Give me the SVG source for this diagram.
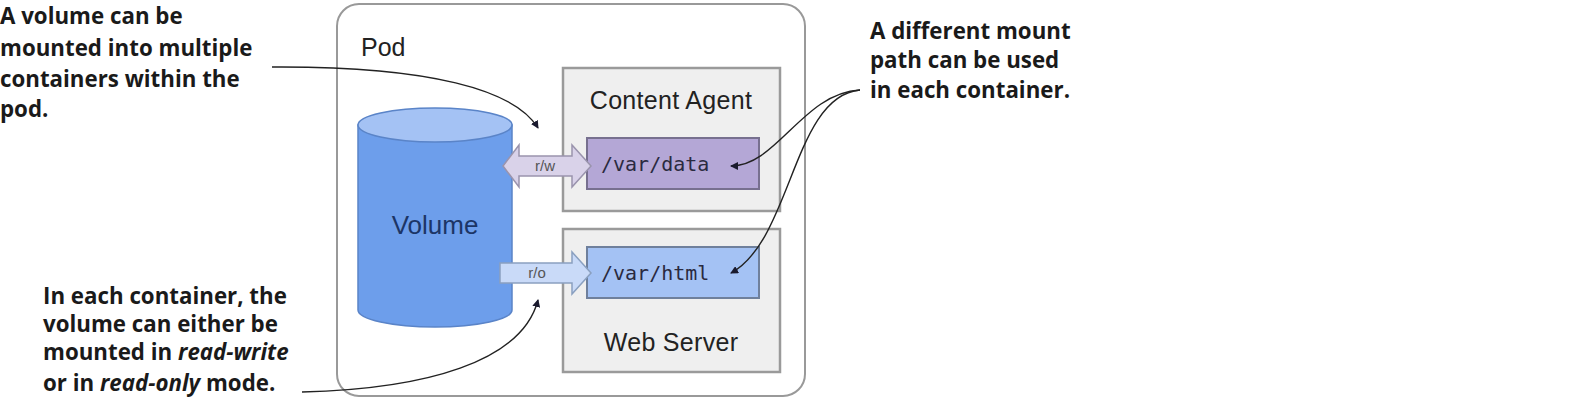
<svg xmlns="http://www.w3.org/2000/svg" width="1583" height="406" viewBox="0 0 1583 406">
<defs>
<style>
.note{font-family:"Open Sans","Liberation Sans",sans-serif;font-weight:700;font-size:22.3px;fill:#1a1a1a}
.title{font-family:"Liberation Sans",Arial,sans-serif;font-size:25px;fill:#222}
.mono{font-family:"DejaVu Sans Mono","Liberation Mono",monospace;font-size:20px;fill:#2a2a40}
.lbl{font-family:"Liberation Sans",Arial,sans-serif;font-size:15px;fill:#555}
.box{fill:#efefef;stroke:#9a9a9a;stroke-width:2.5}
.conn{fill:none;stroke:#222;stroke-width:1.4}
</style>
<marker id="ah" viewBox="0 0 8 8" refX="7" refY="4" markerWidth="8" markerHeight="8" markerUnits="userSpaceOnUse" orient="auto">
<path d="M0,0 L8,4 L0,8 z" fill="#1a1a2e"/>
</marker>
</defs>
<rect width="1583" height="406" fill="#fff"/>

<g id="pod">
<rect x="337" y="4" width="468" height="392" rx="22" fill="#fff" stroke="#999" stroke-width="2"/>
<text class="title" x="361" y="56">Pod</text>
</g>

<g id="volume">
<path d="M358,125 L358,310 A77,17 0 0 0 512,310 L512,125 Z" fill="#6d9eeb" stroke="#5a84c8" stroke-width="1.5"/>
<ellipse cx="435" cy="125" rx="77" ry="17" fill="#a4c2f4" stroke="#5a84c8" stroke-width="1.5"/>
<text x="435" y="234" text-anchor="middle" font-family="Liberation Sans, Arial, sans-serif" font-size="26" fill="#1c3566">Volume</text>
</g>

<g id="content-agent">
<rect class="box" x="563" y="68" width="217" height="143"/>
<text class="title" x="671" y="109" text-anchor="middle" letter-spacing="0.3">Content Agent</text>
<rect x="587" y="138" width="172" height="51" fill="#b4a7d6" stroke="#77708f" stroke-width="2"/>
<text class="mono" x="601" y="171">/var/data</text>
</g>

<g id="web-server">
<rect class="box" x="563" y="229" width="217" height="143"/>
<rect x="587" y="247" width="172" height="51" fill="#a4c2f4" stroke="#6f809c" stroke-width="2"/>
<text class="mono" x="601" y="280">/var/html</text>
<text class="title" x="671" y="351" text-anchor="middle" letter-spacing="0.3">Web Server</text>
</g>

<g id="rw-arrow">
<polygon points="503,166 519,145 519,156 572,156 572,145 591,166 572,187 572,176 519,176 519,187" fill="#d9d2e9" stroke="#9a94ad" stroke-width="1.5"/>
<text class="lbl" x="545" y="171" text-anchor="middle">r/w</text>
</g>

<g id="ro-arrow">
<polygon points="500,263 572,263 572,252 591,273 572,294 572,283 500,283" fill="#c9daf8" stroke="#8aa0c0" stroke-width="1.5"/>
<text class="lbl" x="537" y="278" text-anchor="middle">r/o</text>
</g>

<g id="note-multi">
<text class="note" x="0" y="24">A volume can be</text>
<text class="note" x="0" y="56">mounted into multiple</text>
<text class="note" x="0" y="87">containers within the</text>
<text class="note" x="0" y="117">pod.</text>
</g>

<g id="note-mode">
<text class="note" x="43" y="304">In each container, the</text>
<text class="note" x="43" y="332">volume can either be</text>
<text class="note" x="43" y="360">mounted in <tspan font-style="italic">read-write</tspan></text>
<text class="note" x="43" y="391">or in <tspan font-style="italic">read-only</tspan> mode.</text>
</g>

<g id="note-path">
<text class="note" x="870" y="39">A different mount</text>
<text class="note" x="870" y="68">path can be used</text>
<text class="note" x="870" y="98">in each container.</text>
</g>

<g id="connectors">
<path class="conn" d="M272,67 C430,66 515,90 538,128" marker-end="url(#ah)"/>
<path class="conn" d="M302,392 C425,389 522,362 538,300" marker-end="url(#ah)"/>
<path class="conn" d="M860,90 C803,93 777,166 731,166" marker-end="url(#ah)"/>
<path class="conn" d="M860,90 C793,96 792,240 731,273" marker-end="url(#ah)"/>
</g>
</svg>
